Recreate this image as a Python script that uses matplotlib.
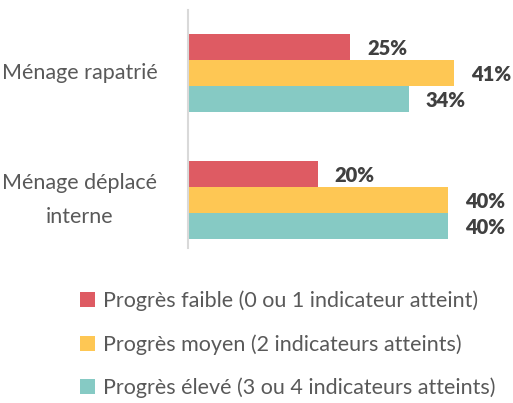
import matplotlib
matplotlib.use("Agg")
import matplotlib.pyplot as plt
import numpy as np

plt.rcParams['font.family'] = ['Lato', 'DejaVu Sans']

categories = ["Ménage rapatrié", "Ménage déplacé\ninterne"]
series_names = ["Progrès faible (0 ou 1 indicateur atteint)",
                "Progrès moyen (2 indicateurs atteints)",
                "Progrès élevé (3 ou 4 indicateurs atteints)"]
faible = [25, 20]
moyen = [41, 40]
eleve = [34, 40]
colors = ["#DE5B63", "#FEC754", "#86CAC4"]

fig = plt.figure(figsize=(5.13, 4.03), dpi=100)
ax = fig.add_axes([0.3665, 0.3846, 0.57, 0.5906])

y = np.arange(len(categories))
h = 0.205
for i, (vals, col, name) in enumerate(zip([faible, moyen, eleve], colors, series_names)):
    pos = y + (i - 1) * h
    bars = ax.barh(pos, vals, height=h, color=col, label=name)
    for b, v in zip(bars, vals):
        ax.annotate(f"{v}%", (v, b.get_y() + h / 2), xytext=(12, -1),
                    textcoords="offset points", va="center", ha="left",
                    fontsize=14.5, fontweight="heavy", color="#404040")

ax.set_xlim(0, 45)
ax.set_ylim(1.378, -0.496)
ax.set_yticks(y)
labels = ax.set_yticklabels(categories, fontsize=15.5, color="#595959")
for lbl in labels:
    lbl.set_multialignment("center")
    lbl.set_linespacing(1.85)
    lbl.set_verticalalignment("center")
ax.tick_params(axis="y", length=0, pad=22)
ax.set_xticks([])
for s in ["top", "right", "bottom"]:
    ax.spines[s].set_visible(False)
ax.spines["left"].set_color("#D9D9D9")
ax.spines["left"].set_linewidth(1.5)

fig.legend(loc="upper left", bbox_to_anchor=(0.135, 0.305), frameon=False,
           fontsize=15.5, labelcolor="#595959", handlelength=0.7, handleheight=0.7,
           handletextpad=0.35, labelspacing=1.05, borderpad=0)

fig.savefig("out.png", dpi=100)
